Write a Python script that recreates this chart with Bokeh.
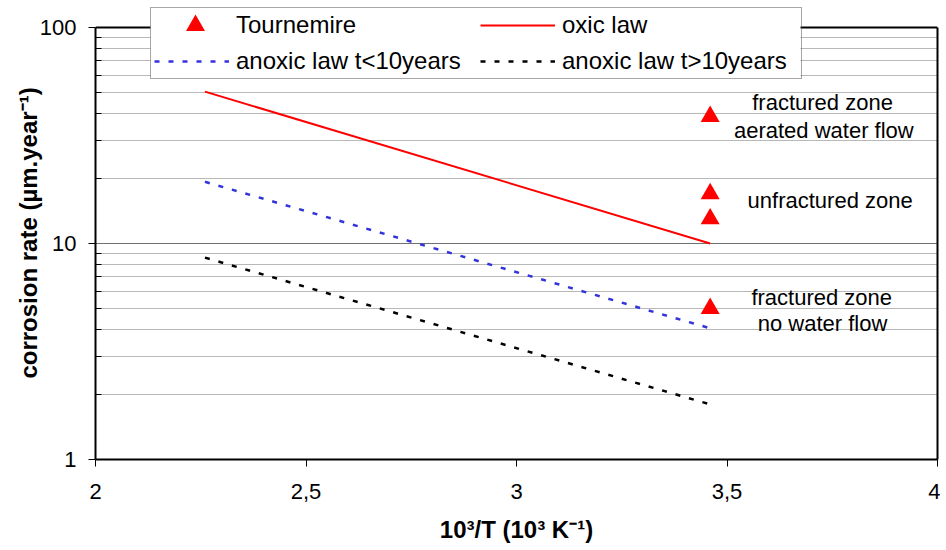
from bokeh.plotting import figure
from bokeh.models import (Range1d, FixedTicker, Legend, LegendItem, ColumnDataSource,
                          LogAxis, Span, BoxAnnotation)
from bokeh.core.properties import value
from bokeh.embed import file_html
from bokeh.resources import INLINE

# ---- data ----
law_x = [2.26, 3.46]
oxic_law = [50.5, 10.0]
anoxic_lt10 = [19.3, 4.05]
anoxic_gt10 = [8.6, 1.8]
tour_x = [3.46, 3.46, 3.46, 3.46]
tour_y = [38.7, 17.0, 13.0, 5.0]

x_ticks = [2, 2.5, 3, 3.5, 4]
x_tick_labels = ["2", "2,5", "3", "3,5", "4"]
y_ticks = [1, 10, 100]
y_minor = [2, 3, 4, 5, 6, 7, 8, 9, 20, 30, 40, 50, 60, 70, 80, 90]

note_text = ["fractured zone", "aerated water flow", "unfractured zone",
             "fractured zone", "no water flow"]
note_x = [3.727, 3.73, 3.745, 3.725, 3.727]
note_y = [45.0, 33.4, 15.8, 5.62, 4.26]

FONT = "Liberation Sans"

# ---- layout (pixels) ----
FRAME_LEFT = 95
FRAME_RIGHT = 937
FRAME_TOP = 6          # frame top; the 1..100 box starts lower so the legend can overhang
Y_TOP_PX = 27
Y_BOTTOM_PX = 459
decade_px = (Y_BOTTOM_PX - Y_TOP_PX) / 2.0
y_hi = 10 ** (2 + (Y_TOP_PX - FRAME_TOP) / decade_px)
x_px = (FRAME_RIGHT - FRAME_LEFT) / 2.0


def px_to_x(px):
    return 2 + (px - FRAME_LEFT) / x_px


def px_to_y(py):
    return 10 ** (2 + (Y_TOP_PX - py) / decade_px)


LEGEND_LEFT, LEGEND_RIGHT, LEGEND_BOTTOM = 150, 800, 79
KEY_PX = (195, 25)

p = figure(width=940, height=550, x_axis_type="linear", y_axis_type="log",
           x_range=Range1d(2, 4), y_range=Range1d(1, y_hi),
           output_backend="svg", toolbar_location=None,
           min_border_left=FRAME_LEFT, min_border_right=940 - FRAME_RIGHT,
           min_border_top=FRAME_TOP, min_border_bottom=550 - Y_BOTTOM_PX)
p.background_fill_color = "white"
p.border_fill_color = "white"
p.outline_line_color = None

# axes
p.xaxis.ticker = FixedTicker(ticks=x_ticks)
p.xaxis.major_label_overrides = {t: l for t, l in zip(x_ticks, x_tick_labels)}
p.yaxis.ticker = FixedTicker(ticks=y_ticks, minor_ticks=y_minor)
p.yaxis.major_label_overrides = {1: "1", 10: "10", 100: "100"}
p.yaxis.bounds = (1, 100)
for ax in (p.xaxis[0], p.yaxis[0]):
    ax.axis_line_color = "black"
    ax.axis_line_width = 2
    ax.major_tick_line_color = "black"
    ax.major_tick_line_width = 1
    ax.major_tick_out = 7
    ax.major_tick_in = 0
    ax.major_label_text_font = FONT
    ax.major_label_text_font_size = "22px"
    ax.major_label_text_color = "black"
    ax.axis_label_text_font = FONT
    ax.axis_label_text_font_size = "24px"
    ax.axis_label_text_font_style = "bold"
    ax.axis_label_text_color = "black"
p.xaxis.minor_tick_line_color = None
p.yaxis.minor_tick_line_color = "black"
p.yaxis.minor_tick_in = 6
p.yaxis.minor_tick_out = 0
p.xaxis.major_label_standoff = 17
p.xaxis.axis_label_standoff = 14
p.yaxis.major_label_standoff = 12
p.yaxis.axis_label_standoff = -5
p.xaxis.axis_label = "10³/T (10³ K⁻¹)"
p.yaxis.axis_label = "corrosion rate (µm.year⁻¹)"

# right border as a bare axis
rax = LogAxis(bounds=(1, 100), ticker=FixedTicker(ticks=[]),
              axis_line_color="black", axis_line_width=2,
              major_tick_line_color=None, minor_tick_line_color=None,
              major_label_text_font_size="0px")
p.add_layout(rax, "right")

# grid
p.xgrid.grid_line_color = None
p.ygrid.ticker = FixedTicker(ticks=y_ticks, minor_ticks=y_minor)
p.ygrid.grid_line_color = "#707070"
p.ygrid.grid_line_width = 1
p.ygrid.minor_grid_line_color = "#b8b8b8"
p.ygrid.minor_grid_line_width = 1

# top border (under the legend box)
p.add_layout(Span(location=100, dimension="width", line_color="black", line_width=2,
                  level="underlay"))

# white legend background (drawn above the grid, below the glyphs)
p.add_layout(BoxAnnotation(left=px_to_x(LEGEND_LEFT), right=px_to_x(LEGEND_RIGHT),
                           bottom=px_to_y(LEGEND_BOTTOM), fill_color="white",
                           fill_alpha=1, line_color=None, level="underlay"))

# series
r_ox = p.line(law_x, oxic_law, line_color="#ff0000", line_width=2)
r_a1 = p.line(law_x, anoxic_lt10, line_color="#3333dd", line_width=2.5, line_dash="5 9")
r_a2 = p.line(law_x, anoxic_gt10, line_color="black", line_width=2.5, line_dash="5 9")
r_t = p.scatter(tour_x, tour_y, marker="triangle", size=19, fill_color="#ff0000",
                line_color="#ff0000", line_width=0)
# legend proxy (invisible); the visible key symbol is drawn separately
r_t_key = p.scatter([], [], marker="triangle", size=19, fill_alpha=0, line_alpha=0)
p.scatter([px_to_x(KEY_PX[0])], [px_to_y(KEY_PX[1])], marker="triangle", size=19,
          fill_color="#ff0000", line_color="#ff0000", line_width=0)

# annotations
src = ColumnDataSource(dict(x=note_x, y=note_y, t=note_text))
p.text(x="x", y="y", text="t", source=src, text_font=value(FONT),
       text_font_size="22px", text_align="center", text_baseline="middle",
       text_color="black")

legend = Legend(items=[
    LegendItem(label="Tournemire", renderers=[r_t_key]),
    LegendItem(label="anoxic law t<10years", renderers=[r_a1]),
    LegendItem(label="oxic law", renderers=[r_ox]),
    LegendItem(label="anoxic law t>10years", renderers=[r_a2]),
], ncols=2, location=(LEGEND_LEFT - FRAME_LEFT, Y_BOTTOM_PX - LEGEND_BOTTOM))
legend.label_text_font = FONT
legend.label_text_font_size = "24px"
legend.label_text_color = "black"
legend.glyph_width = 75
legend.glyph_height = 20
legend.label_height = 20
legend.label_width = 236
legend.label_standoff = 7
legend.spacing = 8
legend.padding = 3
legend.margin = 0
legend.border_line_color = "#505050"
legend.border_line_width = 1.5
legend.background_fill_alpha = 0
p.add_layout(legend, "center")

open("out.html", "w").write(file_html(p, INLINE))
